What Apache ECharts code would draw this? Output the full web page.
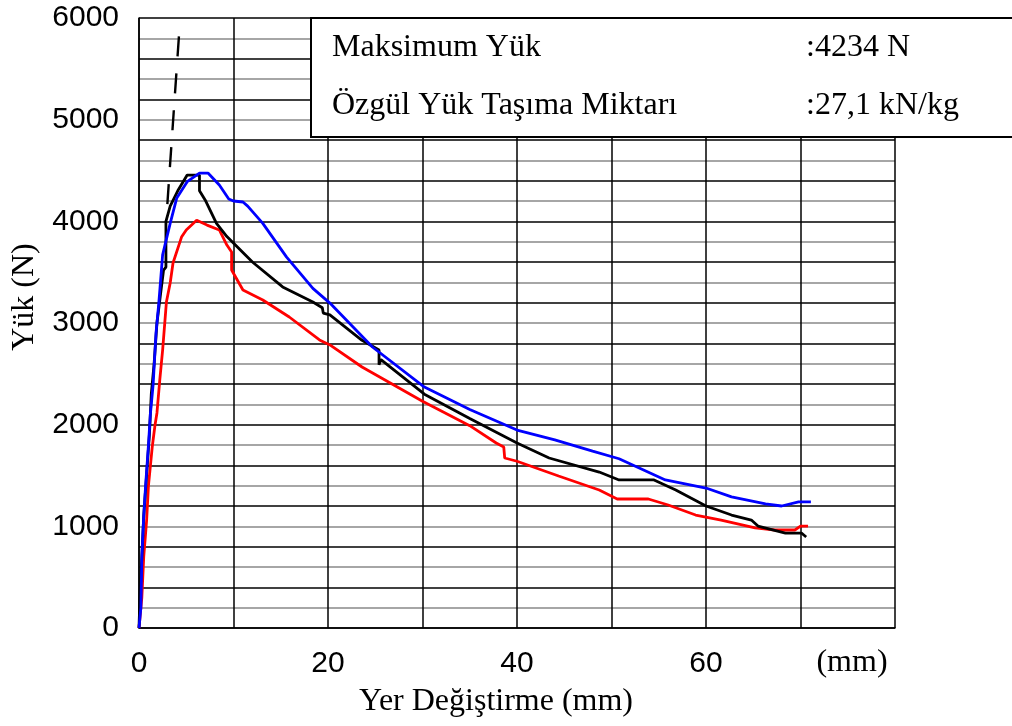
<!DOCTYPE html>
<html>
<head>
<meta charset="utf-8">
<script src="https://cdn.jsdelivr.net/npm/echarts@6/dist/echarts.min.js"></script>
<style>html,body{margin:0;padding:0;background:#fff;}#c{width:1012px;height:726px;}</style>
</head>
<body>
<div id="c"></div>
<script>
// Data: [displacement (mm), load (N)]
const blueSeries = [[0,0],[0.2,200],[0.3,700],[0.5,1100],[0.7,1400],[1.0,1800],[1.2,2100],[1.5,2400],[1.8,2900],[2.1,3200],[2.5,3670],[3.3,3980],[4.0,4230],[5.1,4390],[6.4,4475],[7.3,4475],[8.5,4357],[9.5,4220],[10,4200],[11,4190],[11.5,4150],[13.1,3980],[15.6,3650],[18.4,3340],[20.2,3196],[24.7,2764],[30.2,2370],[35,2150],[40,1947],[44,1850],[48,1740],[50.8,1665],[55.7,1456],[60,1377],[62.7,1290],[66.3,1220],[68,1200],[69.8,1240],[71.1,1240]];
const blackSeries = [[0,0],[0.1,300],[0.3,700],[0.5,1100],[0.8,1500],[1.1,1900],[1.3,2300],[1.6,2600],[1.9,3000],[2.3,3300],[2.6,3520],[2.85,3550],[2.85,4000],[3.3,4150],[4.1,4300],[5.1,4455],[6.4,4455],[6.4,4300],[7.0,4210],[8.2,3980],[9.3,3850],[12.0,3600],[15.2,3355],[18.4,3206],[19.4,3150],[19.5,3098],[20.2,3079],[23.6,2830],[25.4,2735],[25.4,2590],[25.6,2640],[30.2,2300],[35,2060],[40,1820],[43.4,1672],[48.7,1534],[50.8,1456],[54.5,1456],[56.8,1357],[60,1200],[62.7,1111],[64.8,1062],[65.5,1003],[68.4,934],[70.1,934],[70.6,895]];
const redSeries = [[0,0],[0.3,300],[0.5,700],[0.8,1050],[1.0,1400],[1.4,1780],[1.7,2000],[1.9,2115],[2.2,2440],[2.5,2734],[2.9,3206],[3.3,3393],[3.6,3590],[4.5,3845],[5.0,3915],[6.1,4010],[7.2,3963],[8.5,3915],[9.3,3767],[9.8,3698],[9.8,3521],[11.0,3324],[13.1,3226],[15.9,3059],[19.1,2833],[20.2,2784],[23.6,2567],[30,2230],[35,1990],[37.8,1820],[38.6,1780],[38.7,1672],[40,1640],[44.4,1495],[48.7,1357],[50.6,1269],[53.9,1269],[56,1210],[58.9,1111],[61.6,1062],[65.2,984],[67.3,964],[69.4,964],[70,1003],[70.8,1003]];
const dashedLine = [[3.0,4170],[4.3,5920]];
const xTickLabels = [0,20,40,60];
const yTickLabels = [0,1000,2000,3000,4000,5000,6000];
const infoRows = [["Maksimum Yük", ":4234 N"], ["Özgül Yük Taşıma Miktarı", ":27,1 kN/kg"]];

const SANS = 'Liberation Sans, Arial, sans-serif';
const SERIF = 'Liberation Serif, Times New Roman, serif';

const chart = echarts.init(document.getElementById('c'), null, {renderer: 'canvas'});
const L = 139, T = 18, R = 895, B = 628;

const graphics = [
  {type:'rect', shape:{x:311, y:18, width:720, height:119}, style:{fill:'#fff', stroke:'#000', lineWidth:2}, z:100},
  {type:'text', x:852, y:663, style:{text:'(mm)', font:'32px ' + SERIF, fill:'#000', align:'center', verticalAlign:'middle'}, z:100},
  {type:'text', x:496, y:702, style:{text:'Yer Değiştirme (mm)', font:'32px ' + SERIF, fill:'#000', align:'center', verticalAlign:'middle'}, z:100},
  {type:'text', x:25, y:297, rotation:Math.PI/2, style:{text:'Yük (N)', font:'32px ' + SERIF, fill:'#000', align:'center', verticalAlign:'middle'}, z:100}
];
infoRows.forEach((r, i) => {
  const y = 48 + i * 58;
  graphics.push({type:'text', x:332, y:y, style:{text:r[0], font:'32px ' + SERIF, fill:'#000', align:'left', verticalAlign:'middle'}, z:101});
  graphics.push({type:'text', x:806, y:y, style:{text:r[1], font:'32px ' + SERIF, fill:'#000', align:'left', verticalAlign:'middle'}, z:101});
});

const option = {
  animation: false,
  backgroundColor: '#fff',
  grid: {left: L, top: T, right: 1012 - R, bottom: 726 - B, containLabel: false},
  xAxis: {
    type: 'value', min: 0, max: 80, interval: 10,
    axisLine: {show: true, onZero: false, lineStyle: {color: '#000', width: 1.5}},
    axisTick: {show: false},
    axisLabel: {margin: 21, fontFamily: SANS, fontSize: 30, color: '#000',
      formatter: v => xTickLabels.indexOf(v) >= 0 ? String(v) : ''},
    splitLine: {show: true, lineStyle: {color: '#000', width: 1.5}}
  },
  yAxis: {
    type: 'value', min: 0, max: 6000, interval: 200,
    axisLine: {show: true, onZero: false, lineStyle: {color: '#000', width: 1.5}},
    axisTick: {show: false},
    axisLabel: {margin: 20, fontFamily: SANS, fontSize: 30, color: '#000',
      formatter: v => yTickLabels.indexOf(v) >= 0 ? String(v) : ''},
    splitLine: {show: true, lineStyle: {color: ['#000', '#888'], width: 1.6}}
  },
  series: [
    {type:'line', data: dashedLine, symbol:'none', lineStyle:{color:'#000', width:2.4, type:[20,17]}, z:3},
    {type:'line', data: redSeries, symbol:'none', lineStyle:{color:'#ff0000', width:2.8}, z:4},
    {type:'line', data: blackSeries, symbol:'none', lineStyle:{color:'#000', width:2.8}, z:5},
    {type:'line', data: blueSeries, symbol:'none', lineStyle:{color:'#0000ff', width:2.8}, z:6}
  ],
  graphic: graphics
};
chart.setOption(option);
</script>
</body>
</html>
